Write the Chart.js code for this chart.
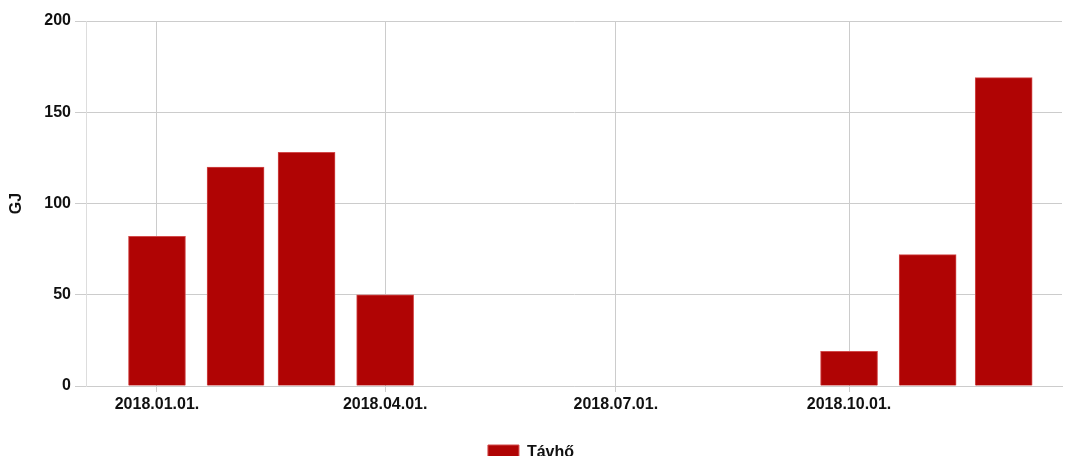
<!DOCTYPE html>
<html>
<head>
<meta charset="utf-8">
<script src="https://cdn.jsdelivr.net/npm/chart.js@4"></script>
<style>
    html, body { margin: 0; padding: 0; background: #fff; overflow: hidden; }
    #wrap { width: 1065px; height: 456px; overflow: hidden; }
</style>
</head>
<body>
<div id="wrap"><canvas id="chart" width="1065" height="480"></canvas></div>
<script>
// Monthly district heating use (GJ), 2018
const months = ['2018.01.01.', '2018.02.01.', '2018.03.01.', '2018.04.01.', '2018.05.01.', '2018.06.01.',
    '2018.07.01.', '2018.08.01.', '2018.09.01.', '2018.10.01.', '2018.11.01.', '2018.12.01.'];
const tavho = [82, 120, 128, 50, null, null, null, null, null, 19, 72, 169];
const tickLabels = ['2018.01.01.', '2018.04.01.', '2018.07.01.', '2018.10.01.'];
const yTicks = [0, 50, 100, 150, 200];
const rangeStart = '2017.12.04.';
const rangeEnd = '2018.12.24.';

// days counted from 2018.01.01. so the axis keeps real month lengths
function dayOf(label) {
    const p = label.split('.');
    const t = Date.UTC(+p[0], +p[1] - 1, +p[2]);
    return Math.round((t - Date.UTC(2018, 0, 1)) / 86400000);
}

const points = months.map(function (m, i) { return { x: dayOf(m), y: tavho[i] }; });
const tickDays = tickLabels.map(dayOf);

const font = { family: 'Liberation Sans, Arial, sans-serif', size: 16, weight: 'bold' };

new Chart(document.getElementById('chart'), {
    type: 'bar',
    data: {
        datasets: [{
            label: 'Távhő',
            data: points,
            backgroundColor: '#b00404',
            borderColor: '#d24a4a',
            borderWidth: 1,
            barThickness: 57
        }]
    },
    options: {
        responsive: false,
        animation: false,
        layout: { padding: { top: 21, right: 3, left: 0, bottom: 9 } },
        plugins: {
            legend: {
                position: 'bottom',
                labels: {
                    boxWidth: 31,
                    padding: 10,
                    color: '#111',
                    font: font
                }
            },
            tooltip: { enabled: false }
        },
        scales: {
            x: {
                type: 'linear',
                offset: false,
                min: dayOf(rangeStart),
                max: dayOf(rangeEnd),
                afterBuildTicks: function (scale) {
                    scale.ticks = tickDays.map(function (v) { return { value: v }; });
                },
                afterFit: function (scale) { scale.height = 49; },
                grid: { offset: false, color: '#cccccc', tickLength: 6 },
                border: { color: '#cccccc' },
                ticks: {
                    autoSkip: false,
                    maxRotation: 0,
                    padding: 3,
                    color: '#111',
                    font: font,
                    callback: function (v) {
                        const i = tickDays.indexOf(v);
                        return i >= 0 ? tickLabels[i] : '';
                    }
                }
            },
            y: {
                min: yTicks[0],
                max: yTicks[yTicks.length - 1],
                afterBuildTicks: function (scale) {
                    scale.ticks = yTicks.map(function (v) { return { value: v }; });
                },
                afterFit: function (scale) { scale.width = 86; },
                grid: { color: '#cccccc', tickLength: 11 },
                border: { color: '#dddddd' },
                ticks: { padding: 4, color: '#111', font: font },
                title: {
                    display: true,
                    text: 'GJ',
                    color: '#111',
                    font: font,
                    padding: { top: 7, bottom: 4 }
                }
            }
        }
    }
});
</script>
</body>
</html>
